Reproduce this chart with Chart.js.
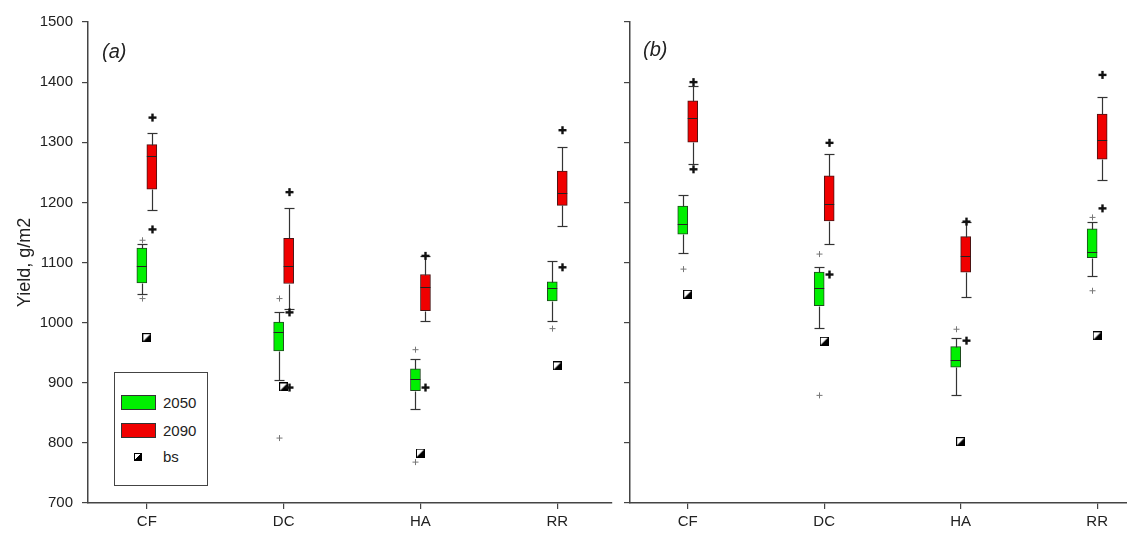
<!DOCTYPE html>
<html>
<head>
<meta charset="utf-8">
<script src="https://cdn.jsdelivr.net/npm/chart.js@4.4.1/dist/chart.umd.min.js"></script>
<style>
  body { margin: 0; background: #fff; }
  #wrap { position: relative; width: 1127px; height: 539px; overflow: hidden; font-family: 'Liberation Sans', Arial, sans-serif; color: #222; }
  #cA { position: absolute; left: 0; top: 0; }
  #cB { position: absolute; left: 612px; top: 0; }
  .tag { position: absolute; font-style: italic; font-size: 20px; }
  #legend { position: absolute; left: 114px; top: 372px; width: 92px; height: 112px; border: 1px solid #444; background: #fff; }
  #legend .sw { position: absolute; left: 6px; width: 33px; height: 13px; border: 1px solid #333; }
  #legend .lb { position: absolute; left: 48px; font-size: 15px; line-height: 16px; }
  #legend .bs { position: absolute; left: 19px; top: 80px; width: 6px; height: 6px; border: 1px solid #000;
    background: linear-gradient(to bottom right, #fff 50%, #000 50%); }
</style>
</head>
<body>
<div id="wrap">
  <canvas id="cA" width="620" height="539"></canvas>
  <canvas id="cB" width="522" height="539"></canvas>
  <span class="tag" style="left:102px;top:40px">(a)</span>
  <span class="tag" style="left:643px;top:38px">(b)</span>
  <div id="legend">
    <div class="sw" style="top:22px;background:#00f000"></div><span class="lb" style="top:22px">2050</span>
    <div class="sw" style="top:50px;background:#f00000"></div><span class="lb" style="top:50px">2090</span>
    <div class="bs"></div><span class="lb" style="top:76px">bs</span>
  </div>
</div>
<script>
const cats = ['CF', 'DC', 'HA', 'RR'];
const yTicks = [700, 800, 900, 1000, 1100, 1200, 1300, 1400, 1500];

// panel (a)
const a2050Q1 = [1066, 953, 887, 1036];
const a2050Med = [1094, 985, 906, 1058];
const a2050Q3 = [1124, 1001, 923, 1068];
const a2050Lo = [1047, 905, 856, 1002];
const a2050Hi = [1131, 1018, 940, 1103];
const a2050Out = [[1137, 1040], [1040, 808], [955, 768], [990]];

const a2090Q1 = [1222, 1065, 1020, 1195];
const a2090Med = [1277, 1094, 1060, 1216];
const a2090Q3 = [1296, 1140, 1080, 1252];
const a2090Lo = [1188, 1022, 1003, 1160];
const a2090Hi = [1316, 1190, 1110, 1292];
const a2090Out = [[1341, 1155], [1217, 1017, 892], [1111, 892], [1320, 1092]];

const aBs = [975, 893, 783, 928];

// panel (b)
const b2050Q1 = [1147, 1028, 926, 1108];
const b2050Med = [1164, 1057, 938, 1118];
const b2050Q3 = [1194, 1084, 960, 1156];
const b2050Lo = [1115, 991, 879, 1078];
const b2050Hi = [1213, 1093, 974, 1167];
const b2050Out = [[1089], [1114, 879], [989], [1175, 1053]];

const b2090Q1 = [1300, 1169, 1084, 1272];
const b2090Med = [1340, 1197, 1111, 1303];
const b2090Q3 = [1369, 1244, 1143, 1347];
const b2090Lo = [1264, 1130, 1043, 1238];
const b2090Hi = [1394, 1281, 1168, 1376];
const b2090Out = [[1400, 1255], [1299, 1080], [1168, 970], [1412, 1190]];

const bBs = [1047, 969, 802, 978];

// half filled square used for the bs points
const bsImg = document.createElement('canvas');
bsImg.width = 9; bsImg.height = 9;
(function () {
  const c = bsImg.getContext('2d');
  c.fillStyle = '#fff'; c.fillRect(0, 0, 9, 9);
  c.fillStyle = '#000';
  c.beginPath(); c.moveTo(0, 9); c.lineTo(9, 0); c.lineTo(9, 9); c.closePath(); c.fill();
  c.strokeStyle = '#000'; c.lineWidth = 1; c.strokeRect(0.5, 0.5, 8, 8);
})();

// whiskers, caps, medians and outliers on top of the bar boxes
const boxPlugin = {
  id: 'boxPlot',
  afterDatasetsDraw(chart) {
    const ctx = chart.ctx, ys = chart.scales.y;
    const seg = (x1, y1, x2, y2) => { ctx.beginPath(); ctx.moveTo(x1, y1); ctx.lineTo(x2, y2); ctx.stroke(); };
    chart.data.datasets.forEach((ds, di) => {
      if (!ds.stats) return;
      const s = ds.stats;
      chart.getDatasetMeta(di).data.forEach((bar, i) => {
        const x = Math.round(bar.x) + 0.5, hw = bar.width / 2;
        const py = v => Math.round(ys.getPixelForValue(v)) + 0.5;
        ctx.save();
        ctx.strokeStyle = '#333';
        ctx.lineWidth = 1.2;
        seg(x, py(ds.data[i].y[1]), x, py(s.hi[i]));
        seg(x, py(ds.data[i].y[0]), x, py(s.lo[i]));
        seg(x - hw, py(s.hi[i]), x + hw, py(s.hi[i]));
        seg(x - hw, py(s.lo[i]), x + hw, py(s.lo[i]));
        ctx.strokeStyle = '#222';
        ctx.lineWidth = 1;
        seg(bar.x - hw, py(s.med[i]), bar.x + hw, py(s.med[i]));
        s.out[i].forEach(v => {
          const oy = ys.getPixelForValue(v);
          if (s.dark) {
            ctx.strokeStyle = '#111'; ctx.lineWidth = 2.4;
            seg(x - 4, oy, x + 4, oy); seg(x, oy - 4, x, oy + 4);
          } else {
            ctx.strokeStyle = '#777'; ctx.lineWidth = 1;
            seg(x - 3, oy, x + 3, oy); seg(x, oy - 3, x, oy + 3);
          }
        });
        ctx.restore();
      });
    });
  }
};

function boxSet(q1, q3, med, lo, hi, out, fill, edge, dark) {
  return {
    label: '',
    data: q1.map((v, i) => ({ x: i + 1, y: [v, q3[i]] })),
    backgroundColor: fill,
    borderColor: edge,
    borderWidth: 1,
    borderSkipped: false,
    barThickness: 10,
    stats: { med, lo, hi, out, dark }
  };
}

function makeChart(id, sets, bs, xMin, xMax, yWidth, showY, padRight) {
  const axisColor = '#444';
  return new Chart(document.getElementById(id), {
    type: 'bar',
    data: {
      datasets: [
        sets[0], sets[1],
        {
          type: 'scatter',
          label: 'bs',
          data: bs.map((v, i) => ({ x: i + 1, y: v })),
          pointStyle: bsImg,
          pointRadius: 5
        }
      ]
    },
    options: {
      responsive: false,
      devicePixelRatio: 1,
      animation: false,
      layout: { padding: { top: 22, right: padRight, left: 0, bottom: 0 } },
      plugins: { legend: { display: false }, tooltip: { enabled: false } },
      scales: {
        x: {
          type: 'linear',
          offset: false,
          min: xMin,
          max: xMax,
          afterBuildTicks: sc => { sc.ticks = cats.map((c, i) => ({ value: i + 1 })); },
          afterFit: sc => { sc.height = 36; },
          ticks: {
            callback: v => cats[v - 1],
            color: '#222',
            font: { family: 'Liberation Sans', size: 15 },
            padding: 4,
            maxRotation: 0
          },
          grid: { offset: false, drawOnChartArea: false, drawTicks: true, tickLength: 6, color: axisColor, lineWidth: 1.2 },
          border: { display: true, color: axisColor, width: 1.5 }
        },
        y: {
          min: 700,
          max: 1500,
          afterBuildTicks: sc => { sc.ticks = yTicks.map(v => ({ value: v })); },
          afterFit: sc => { sc.width = yWidth; },
          ticks: {
            display: showY,
            callback: v => String(v),
            color: '#222',
            font: { family: 'Liberation Sans', size: 15 },
            padding: 9
          },
          title: {
            display: showY,
            text: 'Yield, g/m2',
            color: '#222',
            font: { family: 'Liberation Sans', size: 18 },
            padding: { top: 14 }
          },
          grid: { offset: false, drawOnChartArea: false, drawTicks: true, tickLength: 6, color: axisColor, lineWidth: 1.2 },
          border: { display: true, color: axisColor, width: 1.5 }
        }
      }
    },
    plugins: [boxPlugin]
  });
}

makeChart('cA', [
  boxSet(a2050Q1, a2050Q3, a2050Med, a2050Lo, a2050Hi, a2050Out, '#00f000', '#1e4a1e', false),
  boxSet(a2090Q1, a2090Q3, a2090Med, a2090Lo, a2090Hi, a2090Out, '#f00000', '#4a1414', true)
], aBs, 0.57, 4.40, 88, true, 8);

makeChart('cB', [
  boxSet(b2050Q1, b2050Q3, b2050Med, b2050Lo, b2050Hi, b2050Out, '#00f000', '#1e4a1e', false),
  boxSet(b2090Q1, b2090Q3, b2090Med, b2090Lo, b2090Hi, b2090Out, '#f00000', '#4a1414', true)
], bBs, 0.577, 4.226, 18, false, 0);
</script>
</body>
</html>
